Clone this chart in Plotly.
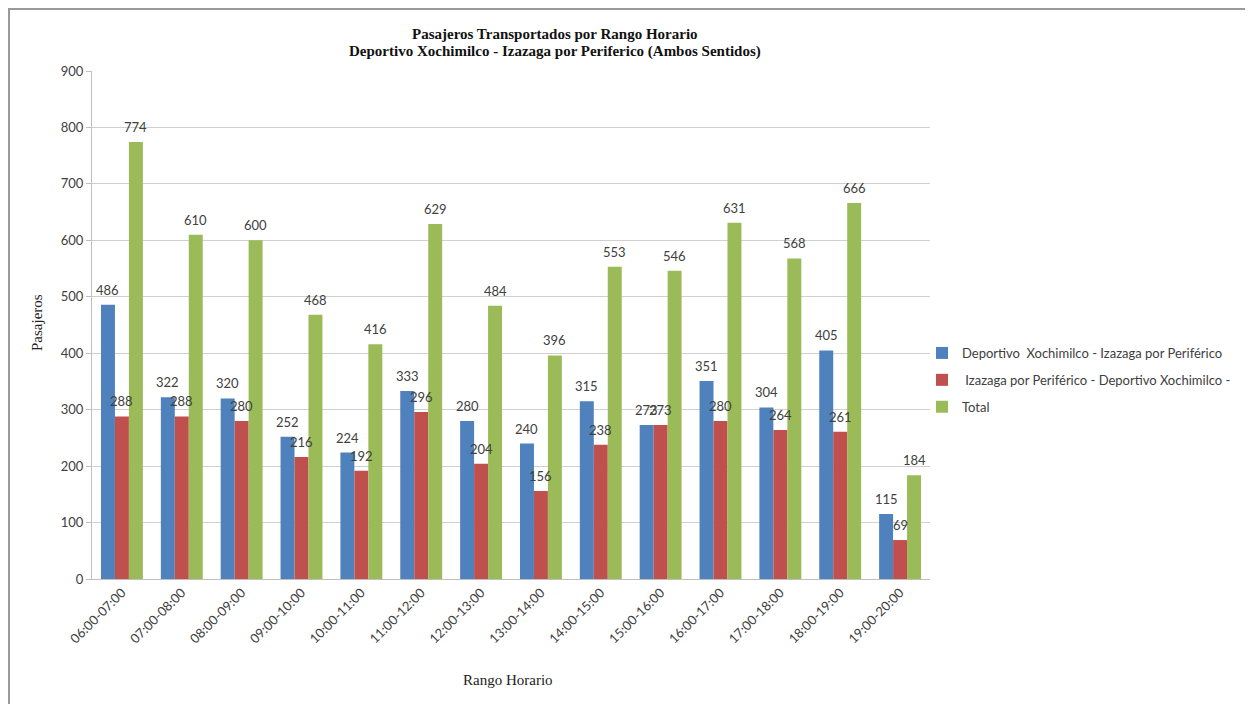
import plotly.graph_objects as go

categories = ["06:00-07:00", "07:00-08:00", "08:00-09:00", "09:00-10:00", "10:00-11:00",
              "11:00-12:00", "12:00-13:00", "13:00-14:00", "14:00-15:00", "15:00-16:00",
              "16:00-17:00", "17:00-18:00", "18:00-19:00", "19:00-20:00"]
deportivo_izazaga = [486, 322, 320, 252, 224, 333, 280, 240, 315, 273, 351, 304, 405, 115]
izazaga_deportivo = [288, 288, 280, 216, 192, 296, 204, 156, 238, 273, 280, 264, 261, 69]
total = [774, 610, 600, 468, 416, 629, 484, 396, 553, 546, 631, 568, 666, 184]

series_names = ["Deportivo  Xochimilco - Izazaga por Periférico",
                " Izazaga por Periférico - Deportivo Xochimilco -",
                "Total"]
colors = ["#4F81BD", "#C0504D", "#9BBB59"]
y_ticks = [0, 100, 200, 300, 400, 500, 600, 700, 800, 900]

OFF = 8  # page body margin of the browser
W, H = 1253 - OFF, 704 - OFF
# desired on-screen plot area
SL, SR, ST, SB = 92, 930, 71, 579
L, R, T, B = SL - OFF, SR - OFF, ST - OFF, SB - OFF
BARGAP = 0.3

LABEL_FONT = dict(family="Lato, Carlito, sans-serif", size=13, color="#404040")
SERIF = "Liberation Serif, Times New Roman, serif"


def px_x(p):  # screen px -> paper x
    return (p - SL) / (SR - SL)


def px_y(p):  # screen px -> paper y
    return (SB - p) / (SB - ST)


fig = go.Figure()
series = [deportivo_izazaga, izazaga_deportivo, total]
for i, (name, vals, col) in enumerate(zip(series_names, series, colors)):
    fig.add_trace(go.Bar(
        x=categories, y=vals, name=name, legendgroup=f"g{i}",
        marker=dict(color=col, line=dict(width=0)),
        hoverinfo="x+y+name",
    ))

# data labels drawn on top of all bars
cat_w = (R - L) / len(categories)
bar_w = cat_w * (1 - BARGAP) / len(series)
annotations = []
for i, vals in enumerate(series):
    shift = (i - (len(series) - 1) / 2) * bar_w
    for c, v in zip(categories, vals):
        annotations.append(dict(
            x=c, y=v, xref="x", yref="y", text=str(v), showarrow=False,
            xanchor="center", yanchor="bottom", xshift=shift, yshift=5,
            font=LABEL_FONT,
        ))

annotations += [
    dict(text="<b>Pasajeros Transportados por Rango Horario</b>", xref="paper", yref="paper",
         x=px_x(555), y=px_y(34), xanchor="center", yanchor="middle", showarrow=False,
         font=dict(family=SERIF, size=15, color="#111")),
    dict(text="<b>Deportivo Xochimilco - Izazaga por Periferico (Ambos Sentidos)</b>", xref="paper", yref="paper",
         x=px_x(555), y=px_y(51), xanchor="center", yanchor="middle", showarrow=False,
         font=dict(family=SERIF, size=15, color="#111")),
    dict(text="Rango Horario", xref="paper", yref="paper",
         x=px_x(508), y=px_y(680), xanchor="center", yanchor="middle", showarrow=False,
         font=dict(family=SERIF, size=15, color="#222")),
    dict(text="Pasajeros", xref="paper", yref="paper", textangle=-90,
         x=px_x(37), y=px_y(323), xanchor="center", yanchor="middle", showarrow=False,
         font=dict(family=SERIF, size=15, color="#222")),
]

fig.update_layout(
    width=W, height=H,
    margin=dict(l=L, r=W - R, t=T, b=H - B, autoexpand=False),
    paper_bgcolor="white", plot_bgcolor="white",
    barmode="group", bargap=BARGAP, bargroupgap=0,
    showlegend=True,
    legend=dict(x=px_x(922), y=px_y(380), xanchor="left", yanchor="middle",
                font=LABEL_FONT, itemwidth=30,
                bgcolor="rgba(0,0,0,0)", tracegroupgap=7),
    xaxis=dict(
        tickangle=-45, showgrid=False, showline=True, linecolor="#BFBFBF", linewidth=1,
        ticks="", tickfont=LABEL_FONT,
    ),
    yaxis=dict(
        range=[0, 900], tickvals=y_ticks, showgrid=True, gridcolor="#D0D0D0", gridwidth=1,
        showline=True, linecolor="#BFBFBF", linewidth=1, ticks="outside", ticklen=5,
        tickcolor="#BFBFBF", zeroline=False, tickfont=LABEL_FONT,
    ),
    annotations=annotations,
    shapes=[
        dict(type="line", xref="paper", yref="paper", x0=px_x(8), x1=px_x(1300), y0=px_y(9), y1=px_y(9),
             line=dict(color="#9A9A9A", width=2)),
        dict(type="line", xref="paper", yref="paper", x0=px_x(9), x1=px_x(9), y0=px_y(8), y1=px_y(760),
             line=dict(color="#9A9A9A", width=2)),
    ],
)

fig.write_html("out.html")
